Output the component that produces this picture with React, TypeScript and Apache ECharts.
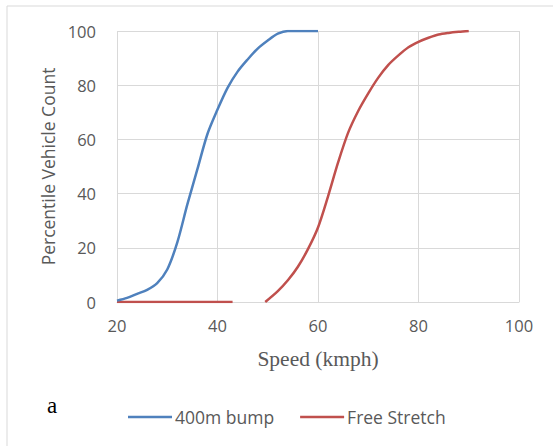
import React, { useEffect, useRef } from "react";
import * as echarts from "echarts";

const seriesNames = ["400m bump", "Free Stretch"];
const xTicks = [20, 40, 60, 80, 100];
const yTicks = [0, 20, 40, 60, 80, 100];

const bumpSpeed = [20, 22, 24, 26, 28, 30, 32, 34, 36, 38, 40, 42, 44, 46, 48, 50, 52, 54, 56, 58, 60];
const bumpPct = [0.5, 1.5, 3, 4.5, 7, 12, 22, 36, 49, 62, 71, 79, 85, 89.5, 93.5, 96.5, 99, 100, 100, 100, 100];

const freeSpeed = [20, 30, 40, 43, null, 49.5, 52, 54, 56, 58, 60, 62, 64, 66, 68, 70, 72, 74, 76, 78, 80, 82, 84, 86, 88, 90];
const freePct = [0, 0, 0, 0, null, 0, 4, 8, 13, 19.5, 27.5, 39, 51.5, 62.5, 70.5, 77, 82.8, 87.5, 91, 94, 96, 97.5, 98.7, 99.3, 99.7, 100];

export default function App() {
  const ref = useRef<HTMLDivElement>(null);
  useEffect(() => {
    if (!ref.current) return;
    const chart = echarts.init(ref.current, undefined, { renderer: "svg" });
    const pair = (xs: (number | null)[], ys: (number | null)[]) =>
      xs.map((x, i) => (x === null || ys[i] === null ? [null, null] : [x, ys[i]]));
    chart.setOption({
      animation: false,
      backgroundColor: "#ffffff",
      graphic: [
        {
          type: "rect",
          shape: { x: 7, y: 6, width: 600, height: 500 },
          style: { fill: "none", stroke: "#d9d9d9", lineWidth: 1 },
          silent: true,
        },
        {
          type: "text",
          left: 47,
          top: 394,
          style: { text: "a", font: "23px 'Liberation Serif', serif", fill: "#000000" },
        },
      ],
      grid: { left: 117, top: 31, width: 402, height: 271, containLabel: false },
      legend: {
        left: 128,
        top: 408,
        padding: 0,
        itemWidth: 44,
        itemHeight: 18,
        itemGap: 26,
        icon: "path://M0,8 L44,8 L44,10.5 L0,10.5 Z",
        textStyle: { fontFamily: "Open Sans", fontSize: 17.5, color: "#595959", padding: [0, 0, 0, -2] },
        data: seriesNames,
      },
      xAxis: {
        type: "value",
        min: 20,
        max: 100,
        interval: 20,
        name: "Speed (kmph)",
        nameLocation: "middle",
        nameGap: 46,
        nameTextStyle: { fontFamily: "'Liberation Serif', serif", fontSize: 21.5, color: "#595959" },
        axisLine: { show: true, lineStyle: { color: "#d9d9d9", width: 1 } },
        axisTick: { show: false },
        axisLabel: {
          fontFamily: "Open Sans",
          fontSize: 16.5,
          color: "#595959",
          margin: 15,
          formatter: (v: number) => (xTicks.includes(v) ? String(v) : ""),
        },
        splitLine: { show: true, lineStyle: { color: "#d9d9d9", width: 1 } },
      },
      yAxis: {
        type: "value",
        min: 0,
        max: 100,
        interval: 20,
        name: "Percentile Vehicle Count",
        nameLocation: "middle",
        nameGap: 60,
        nameRotate: 90,
        nameTextStyle: { fontFamily: "Open Sans", fontSize: 17.5, color: "#595959" },
        axisLine: { show: false },
        axisTick: { show: false },
        axisLabel: {
          fontFamily: "Open Sans",
          fontSize: 16.5,
          color: "#595959",
          margin: 21,
          formatter: (v: number) => (yTicks.includes(v) ? String(v) : ""),
        },
        splitLine: { show: true, lineStyle: { color: "#d9d9d9", width: 1 } },
      },
      series: [
        {
          name: seriesNames[0],
          type: "line",
          data: pair(bumpSpeed, bumpPct),
          smooth: 0.3,
          showSymbol: false,
          symbol: "none",
          lineStyle: { color: "#4F81BD", width: 2.5 },
          itemStyle: { color: "#4F81BD" },
          z: 3,
        },
        {
          name: seriesNames[1],
          type: "line",
          data: pair(freeSpeed, freePct),
          smooth: 0.3,
          connectNulls: false,
          showSymbol: false,
          symbol: "none",
          lineStyle: { color: "#C0504D", width: 2.5 },
          itemStyle: { color: "#C0504D" },
          z: 2,
        },
      ],
    });
    return () => chart.dispose();
  }, []);
  return (
    <div
      ref={ref}
      style={{ position: "fixed", left: 0, top: 0, width: 553, height: 446, background: "#fff" }}
    />
  );
}
